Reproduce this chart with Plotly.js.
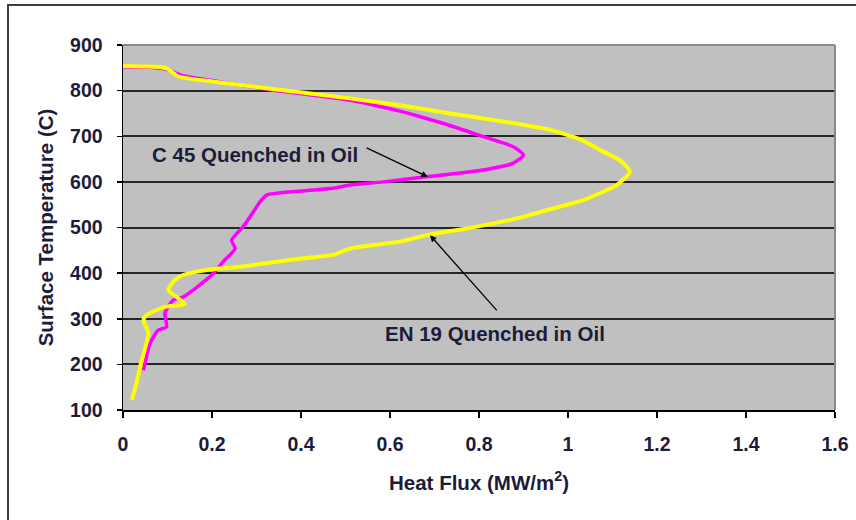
<!DOCTYPE html>
<html>
<head>
<meta charset="utf-8">
<script src="https://cdn.plot.ly/plotly-3.0.1.min.js"></script>
<style>html,body{margin:0;padding:0;background:#fff;}#chart{width:856px;height:520px;}</style>
</head>
<body>
<div id="chart"></div>
<script>
// EN 19 Quenched in Oil (yellow)
const en19Flux = [0.0, 0.04, 0.083, 0.10, 0.11, 0.124, 0.2, 0.323, 0.51, 0.622, 0.735, 0.85, 0.96, 1.03, 1.072, 1.12, 1.139, 1.109, 1.034, 0.96, 0.885, 0.772, 0.69, 0.622, 0.51, 0.472, 0.40, 0.263, 0.188, 0.136, 0.117, 0.102, 0.124, 0.139, 0.094, 0.053, 0.046, 0.057, 0.042, 0.031, 0.02];
const en19Temp = [854, 853, 852, 848, 841, 831, 820, 805, 783, 768, 750, 733, 714, 692, 670, 645, 622, 593, 560, 540, 520, 498, 485, 469, 454, 440, 432, 414, 407, 396, 385, 363, 345, 332, 326, 308, 297, 268, 209, 162, 122];
// C 45 Quenched in Oil (magenta)
const c45Flux = [0.0, 0.06, 0.1, 0.13, 0.2, 0.323, 0.51, 0.622, 0.66, 0.74, 0.81, 0.877, 0.9, 0.877, 0.81, 0.682, 0.585, 0.51, 0.472, 0.40, 0.323, 0.308, 0.29, 0.27, 0.244, 0.252, 0.225, 0.203, 0.17, 0.136, 0.113, 0.094, 0.098, 0.079, 0.061, 0.046];
const c45Temp = [852, 851, 846, 834, 822, 803, 779, 755, 745, 722, 699, 677, 659, 641, 626, 611, 600, 593, 586, 580, 571, 556, 530, 502, 472, 454, 425, 399, 372, 348, 341, 312, 282, 275, 246, 187];

const xTicks = [0, 0.2, 0.4, 0.6, 0.8, 1, 1.2, 1.4, 1.6];
const yTicks = [100, 200, 300, 400, 500, 600, 700, 800, 900];

const labelC45 = "C 45 Quenched in Oil";
const labelEN19 = "EN 19 Quenched in Oil";

const txtColor = '#1c1c3a';
const fam = 'Liberation Sans, Arial, sans-serif';

const traces = [
  {x: c45Flux, y: c45Temp, mode: 'lines', name: labelC45,
   line: {color: '#ff00ff', width: 3.5, shape: 'spline', smoothing: 0.6}},
  {x: en19Flux, y: en19Temp, mode: 'lines', name: labelEN19,
   line: {color: '#ffff00', width: 4, shape: 'spline', smoothing: 0.6}}
];

const layout = {
  width: 856, height: 520,
  margin: {l: 123, r: 21, t: 45, b: 110},
  paper_bgcolor: '#ffffff',
  plot_bgcolor: '#c0c0c0',
  showlegend: false,
  xaxis: {
    range: [0, 1.6], tickvals: xTicks, ticktext: xTicks.map(String),
    showgrid: false, zeroline: false,
    showline: true, linecolor: '#000', linewidth: 1.5,
    ticks: 'outside', ticklen: 6, tickcolor: '#000', tickwidth: 1.5,
    ticklabelstandoff: 10,
    tickfont: {family: fam, size: 19.5, color: txtColor, weight: 'bold'},
    title: {text: 'Heat Flux (MW/m<sup>2</sup>)', standoff: 21,
            font: {family: fam, size: 20.5, color: txtColor, weight: 'bold'}},
    automargin: false
  },
  yaxis: {
    range: [100, 900], tickvals: yTicks, ticktext: yTicks.map(String),
    showgrid: true, gridcolor: '#262626', gridwidth: 2, zeroline: false,
    showline: true, linecolor: '#000', linewidth: 1.5,
    ticks: 'outside', ticklen: 5, tickcolor: '#000', tickwidth: 1.5,
    ticklabelstandoff: 10,
    tickfont: {family: fam, size: 19.5, color: txtColor, weight: 'bold'},
    title: {text: 'Surface Temperature (C)', standoff: 11,
            font: {family: fam, size: 20.5, color: txtColor, weight: 'bold'}},
    automargin: false
  },
  shapes: [
    {type: 'line', xref: 'paper', yref: 'paper', x0: 0, x1: 1, y0: 1, y1: 1,
     line: {color: '#8a8a8a', width: 2}},
    {type: 'line', xref: 'paper', yref: 'paper', x0: 1, x1: 1, y0: 0, y1: 1,
     line: {color: '#8a8a8a', width: 2}},
    {type: 'rect', xref: 'paper', yref: 'paper', x0: -0.1615, x1: 1.2, y0: -0.5, y1: 1.1096,
     line: {color: '#404040', width: 2}, fillcolor: 'rgba(0,0,0,0)', layer: 'below'}
  ],
  annotations: [
    {x: 0.297, y: 661, xref: 'x', yref: 'y', text: labelC45, showarrow: false,
     font: {family: fam, size: 20.5, color: txtColor, weight: 'bold'}},
    {x: 0.685, y: 611, ax: 0.544, ay: 676, xref: 'x', yref: 'y', axref: 'x', ayref: 'y',
     text: '', showarrow: true, arrowhead: 2, arrowsize: 1, arrowwidth: 1.3, arrowcolor: '#000'},
    {x: 0.836, y: 268, xref: 'x', yref: 'y', text: labelEN19, showarrow: false,
     font: {family: fam, size: 20.5, color: txtColor, weight: 'bold'}},
    {x: 0.69, y: 483, ax: 0.843, ay: 315, xref: 'x', yref: 'y', axref: 'x', ayref: 'y',
     text: '', showarrow: true, arrowhead: 2, arrowsize: 1, arrowwidth: 1.3, arrowcolor: '#000'}
  ]
};

Plotly.newPlot('chart', traces, layout, {displayModeBar: false, staticPlot: true});
</script>
</body>
</html>
